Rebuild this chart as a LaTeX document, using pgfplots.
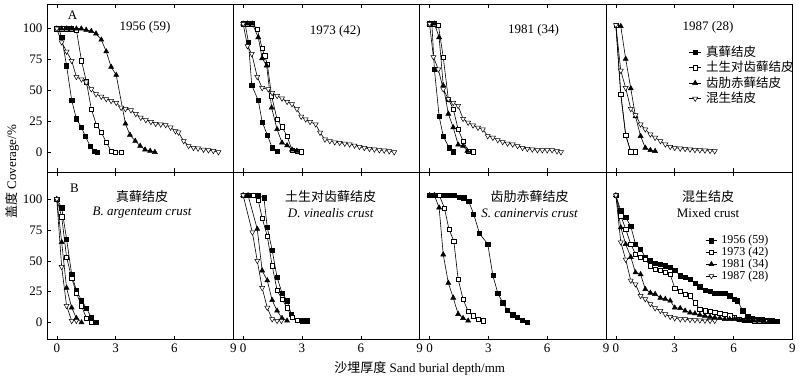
\documentclass[border=0pt]{standalone}
\usepackage{pgfplots}
\pgfplotsset{compat=1.18}
\usepgfplotslibrary{groupplots}
\usetikzlibrary{calc}
\usepackage{fontspec}
\setmainfont{Liberation Serif}
\newfontfamily\cjk{Noto Sans CJK SC}
\pgfplotsset{
  s1/.style={black, line width=0.6pt, mark=square*, mark size=2.1pt, mark options={solid, fill=black, line width=0.5pt}},
  s2/.style={black, line width=0.6pt, mark=square*, mark size=2.1pt, mark options={solid, fill=white, line width=0.5pt}},
  s3/.style={black, line width=0.6pt, mark=triangle*, mark size=2.9pt, mark options={solid, fill=black, line width=0.5pt}},
  s4/.style={black, line width=0.6pt, mark=triangle*, mark size=2.9pt, mark options={solid, fill=white, rotate=180, line width=0.5pt}},
}
\tikzset{lab/.style={font=\fontsize{13}{15}\selectfont, inner sep=1pt}}
\begin{document}
\fontsize{13}{15}\selectfont
\begin{tikzpicture}
\begin{groupplot}[
  group style={group size=4 by 2, horizontal sep=0pt, vertical sep=0pt,
    xticklabels at=edge bottom, yticklabels at=edge left},
  scale only axis, width=186.5pt, height=168pt,
  xmin=-0.5, xmax=9, xtick={0,3,6,9}, ytick={0,25,50,75,100},
  tick align=inside, xtick pos=both, ytick pos=left, major tick length=4pt,
  tick style={line width=0.5pt, black},
  tick label style={font=\fontsize{13}{13}\selectfont},
  /pgf/number format/assume math mode=true,
  axis line style={line width=0.6pt},
  clip=false,
  legend image code/.code={\draw[mark repeat=2,mark phase=2] plot coordinates {(0cm,0cm) (0.2cm,0cm) (0.4cm,0cm)};},
]
% ---------------- A1 1956
\nextgroupplot[ymin=-16, ymax=120]
\addplot[s1] coordinates {(0,100)(0.1,100)(0.25,93)(0.5,70)(0.76,42)(1.0,27)(1.26,20)(1.45,13)(1.7,5)(1.93,1)(2.05,0)};
\addplot[s2] coordinates {(0,100)(0.25,100)(0.5,100)(0.75,100)(1.0,99)(1.26,74)(1.51,57)(1.76,35)(2.02,22)(2.27,16)(2.52,8)(2.77,1)(3.0,0)(3.28,0)};
\addplot[s3] coordinates {(0,100)(0.25,100)(0.5,100)(0.75,100)(1.0,100)(1.25,100)(1.5,99)(1.76,98)(2.0,96)(2.27,91)(2.52,81.5)(2.77,69)(3.03,62.5)(3.5,23)(3.73,14)(4.0,9)(4.25,5)(4.5,2)(4.76,1)(5.0,0)};
\addplot[s4] coordinates {(0,100)(0.25,89)(0.5,81.5)(0.76,74)(1.0,61)(1.26,59)(1.5,56.5)(1.76,51)(2.0,47)(2.27,45)(2.52,43)(2.77,41.5)(3.03,40)(3.28,36)(3.5,35)(3.78,34)(4.03,31)(4.28,28)(4.54,26)(4.8,24.5)(5.04,23)(5.3,22.5)(5.55,22)(5.8,20)(6.05,17)(6.2,16)(6.47,9)(6.72,5)(6.97,3.5)(7.2,3)(7.48,2)(7.73,1.6)(7.98,1)(8.24,0)};
\node[lab] at (axis cs:0.8,111) {A};
\node[lab] at (axis cs:4.5,101) {1956 (59)};
% ---------------- A2 1973
\nextgroupplot[ymin=-16, ymax=120, ytick=\empty]
\addplot[s1] coordinates {(0,104)(0.1,104)(0.27,89)(0.44,54)(0.77,42)(0.97,24.5)(1.23,14)(1.48,3.5)(1.73,1)};
\addplot[s2] coordinates {(0,104)(0.22,104)(0.47,104)(0.72,99.5)(0.97,84)(1.1,78)(1.23,71.5)(1.45,45.6)(1.73,26.6)(1.98,20.6)(2.24,13)(2.49,1.6)(2.74,0.8)(2.96,0.3)};
\addplot[s3] coordinates {(0,104)(0.22,104)(0.47,104)(0.77,93)(0.97,76)(1.2,70)(1.45,36)(1.73,18.5)(1.98,7.6)(2.24,5.4)(2.49,2)(2.74,1)};
\addplot[s4] coordinates {(0,104)(0.22,86)(0.44,79.6)(0.72,61)(0.97,52)(1.28,51)(1.48,48)(1.73,45.6)(1.98,43.5)(2.24,40.8)(2.49,38.9)(2.74,35)(2.96,28.8)(3.19,26.6)(3.41,24.5)(3.7,22.6)(3.92,15.8)(4.17,10.3)(4.42,9)(4.67,8)(4.92,7.6)(5.18,7)(5.43,6.3)(5.68,5.4)(5.93,4.3)(6.18,3.5)(6.44,2.7)(6.69,2.2)(6.94,1.6)(7.19,1.4)(7.45,0.8)(7.7,0)};
\node[lab] at (axis cs:4.7,98) {1973 (42)};
% ---------------- A3 1981
\nextgroupplot[ymin=-16, ymax=120, ytick=\empty]
\addplot[s1] coordinates {(0,104)(0.12,104)(0.25,67)(0.49,29)(0.7,13)(1.0,3.5)(1.21,0.3)};
\addplot[s2] coordinates {(0,104)(0.25,104)(0.45,103)(0.7,77)(0.96,43)(1.21,35)(1.46,18.5)(1.71,9)(1.97,1)(2.22,0.3)};
\addplot[s3] coordinates {(0,104)(0.25,104)(0.49,93)(0.7,54)(0.96,31)(1.21,20)(1.46,6)(1.71,5)(1.93,1)};
\addplot[s4] coordinates {(0,104)(0.2,77)(0.45,67)(0.7,51)(0.96,43)(1.21,40)(1.46,37.5)(1.71,27)(1.97,24)(2.22,21.7)(2.47,19.8)(2.72,18.5)(2.97,13)(3.23,11.7)(3.48,9.8)(3.73,8.2)(3.98,7)(4.24,6.3)(4.49,5)(4.74,3.5)(4.99,2.7)(5.24,2.2)(5.5,1.6)(5.75,1.6)(6.0,1.6)(6.25,1.6)(6.5,0.8)(6.7,0)};
\node[lab] at (axis cs:5.3,99) {1981 (34)};
% ---------------- A4 1987
\nextgroupplot[ymin=-16, ymax=120, ytick=\empty,
  legend style={at={(0.445,0.757)}, anchor=north west, draw=none, fill=none,
    font=\cjk\fontsize{12.5}{13}\selectfont, row sep=1pt, inner sep=0pt,
    nodes={inner sep=1pt}, cells={anchor=west},
    /tikz/every odd column/.append style={column sep=4pt}}]
\addplot[s1] coordinates {(0,103)(0.25,47)(0.5,14)(0.76,0.3)};
\addplot[s2] coordinates {(0,103)(0.25,47)(0.5,14)(0.76,0.3)(1.0,0.3)};
\addplot[s3] coordinates {(0.25,102)(0.5,75.5)(0.76,51.6)(1.0,29)(1.26,13)(1.5,3.5)(1.76,1.6)(2.0,0.8)};
\addplot[s4] coordinates {(0,103)(0.25,66)(0.5,52)(0.76,35)(1.0,30)(1.26,22.5)(1.5,18.5)(1.76,14.4)(2.0,11.7)(2.27,9)(2.52,6.3)(2.77,4.3)(3.0,3.5)(3.28,3)(3.53,2.7)(3.78,2.2)(4.03,1.8)(4.28,1.6)(4.54,1.4)(4.8,1.1)(5.04,0.8)};
\legend{真藓结皮,土生对齿藓结皮,齿肋赤藓结皮,混生结皮}
\node[lab] at (axis cs:4.7,101) {1987 (28)};
% ---------------- B1
\nextgroupplot[ymin=-14, ymax=122]
\addplot[s1] coordinates {(0,100)(0.25,93)(0.5,67.6)(0.76,39)(1.0,25.7)(1.26,18)(1.51,11.6)(1.76,4)(2.0,0)};
\addplot[s2] coordinates {(0,100)(0.25,85.7)(0.5,53)(0.76,36)(1.0,24)(1.26,13.5)(1.51,3.5)(1.76,0)};
\addplot[s3] coordinates {(0,100)(0.25,65)(0.5,28)(0.76,12)(1.0,3.5)(1.26,0)};
\addplot[s4] coordinates {(0,100)(0.25,45)(0.5,13.5)(0.76,1.4)(1.0,1.4)};
\node[lab] at (axis cs:0.9,109) {B};
\node[lab] at (axis cs:4.35,101.8) {\cjk 真藓结皮};
\node[lab] at (axis cs:4.35,88.8) {\itshape B. argenteum crust};
% ---------------- B2
\nextgroupplot[ymin=-14, ymax=122, ytick=\empty]
\addplot[s1] coordinates {(0,103)(0.25,103)(0.5,103)(0.75,103)(1.06,101)(1.23,77)(1.48,58.6)(1.73,36.5)(1.98,24)(2.24,17.6)(2.45,6.8)(2.74,1.9)(3.0,1.4)(3.24,1.4)};
\addplot[s2] coordinates {(0,103)(0.25,103)(0.5,103)(0.77,99)(0.97,84.6)(1.23,70)(1.48,46)(1.73,26)(1.98,19)(2.24,12)(2.49,4)(2.74,1.9)};
\addplot[s3] coordinates {(0,103)(0.25,103)(0.72,75.7)(0.97,42)(1.23,34)(1.48,18)(1.73,9.5)(1.98,3.5)(2.24,1.4)};
\addplot[s4] coordinates {(0,103)(0.47,73)(0.72,50)(0.97,28)(1.23,12)(1.48,2.7)(1.73,1.4)(1.95,1.4)};
\node[lab] at (axis cs:4.46,101.8) {\cjk 土生对齿藓结皮};
\node[lab] at (axis cs:4.46,88.8) {\itshape D. vinealis crust};
% ---------------- B3
\nextgroupplot[ymin=-14, ymax=122, ytick=\empty]
\addplot[s1] coordinates {(0,103)(0.25,103)(0.5,103)(0.75,103)(1.0,103)(1.25,103)(1.5,101.5)(1.75,101)(2.0,98)(2.25,88)(2.55,72)(2.97,63.5)(3.23,38)(3.48,24)(3.73,16)(3.98,10)(4.24,6.2)(4.49,4)(4.74,1.9)(4.99,0)};
\addplot[s2] coordinates {(0,103)(0.25,103)(0.5,103)(0.76,92.7)(0.99,75.7)(1.24,66)(1.46,35)(1.71,19)(1.97,9)(2.22,5.4)(2.47,2.7)(2.72,1.4)};
\addplot[s3] coordinates {(0,103)(0.25,103)(0.49,93)(0.7,55)(0.96,32)(1.21,20)(1.46,6.8)(1.71,3.5)(1.97,1.4)};
\node[lab] at (axis cs:5.1,101.8) {\cjk 齿肋赤藓结皮};
\node[lab] at (axis cs:5.1,88.8) {\itshape S. caninervis crust};
% ---------------- B4
\nextgroupplot[ymin=-14, ymax=122, ytick=\empty,
  legend style={at={(0.532,0.622)}, anchor=north west, draw=none, fill=none,
    font=\fontsize{12}{12}\selectfont, row sep=1.5pt, inner sep=0pt,
    nodes={inner sep=0pt}, cells={anchor=west},
    /tikz/every odd column/.append style={column sep=4pt}}]
\addplot[s1] coordinates {(0,103)(0.25,90.5)(0.5,85)(0.76,78)(1.0,63.5)(1.26,59.5)(1.5,53)(1.76,50)(2.0,48)(2.27,47)(2.52,46)(2.77,44.6)(3.0,42.4)(3.28,37.8)(3.53,36.5)(3.78,35)(4.03,32)(4.28,29)(4.54,26)(4.8,25)(5.04,24)(5.3,24)(5.55,23.5)(5.8,21.6)(6.05,19)(6.2,17.6)(6.47,9.5)(6.72,4.6)(6.97,3.5)(7.2,2.7)(7.48,2.7)(7.73,1.9)(7.98,1.4)(8.24,0.8)};
\addplot[s2] coordinates {(0,103)(0.25,86.5)(0.5,75.7)(0.76,63.5)(1.0,55.4)(1.26,53)(1.5,51)(1.76,46)(2.0,43)(2.27,42)(2.52,40.5)(2.77,39)(3.0,28)(3.28,25)(3.53,23)(3.78,21.6)(4.03,16)(4.28,10.8)(4.54,9.5)(4.8,9)(5.04,8)(5.3,7.3)(5.55,6.8)(5.8,5.4)(6.05,4)(6.3,2.7)(6.55,2)(6.8,1.6)(7.05,1.4)(7.3,1.1)(7.55,0.8)(7.73,0.8)};
\addplot[s3] coordinates {(0,103)(0.25,77)(0.5,63.5)(0.76,53)(1.0,40.5)(1.26,39)(1.5,27)(1.76,24)(2.0,23)(2.27,20)(2.52,19)(2.77,17.6)(3.0,12)(3.28,11.6)(3.53,9.5)(3.78,8)(4.03,7.3)(4.28,6.2)(4.54,5.4)(4.8,4.6)(5.04,4)(5.3,3.5)(5.55,2.7)(5.8,2.7)(6.05,2.7)(6.3,1.9)(6.55,1.4)(6.8,1.4)(7.05,1.4)(7.3,1.4)(7.55,1.1)(7.8,1.1)(8.05,0.8)};
\addplot[s4] coordinates {(0,103)(0.25,65)(0.5,51)(0.76,34)(1.0,31)(1.26,21.6)(1.5,19)(1.76,15)(2.0,11.6)(2.27,9.5)(2.52,6.8)(2.77,4.6)(3.0,3.5)(3.28,2.7)(3.53,2.7)(3.78,2.2)(4.03,2)(4.28,1.8)(4.54,1.6)(4.8,1.4)(5.04,1.4)};
\legend{1956 (59),1973 (42),1981 (34),1987 (28)}
\node[lab] at (axis cs:4.7,101.8) {\cjk 混生结皮};
\node[lab] at (axis cs:4.7,88.8) {Mixed crust};
\end{groupplot}
\node[lab, rotate=90] at ($(group c1r1.north west)!0.5!(group c1r2.south west)+(-35pt,0)$) {{\cjk 盖度} Coverage/\%};
\node[lab] at ($(group c1r2.south west)!0.5!(group c4r2.south east)+(0,-29pt)$) {{\cjk 沙埋厚度} Sand burial depth/mm};
\path ($(group c1r1.north west)+(-47pt,4pt)$) rectangle ($(group c4r2.south east)+(5pt,-38pt)$);
\end{tikzpicture}
\end{document}
